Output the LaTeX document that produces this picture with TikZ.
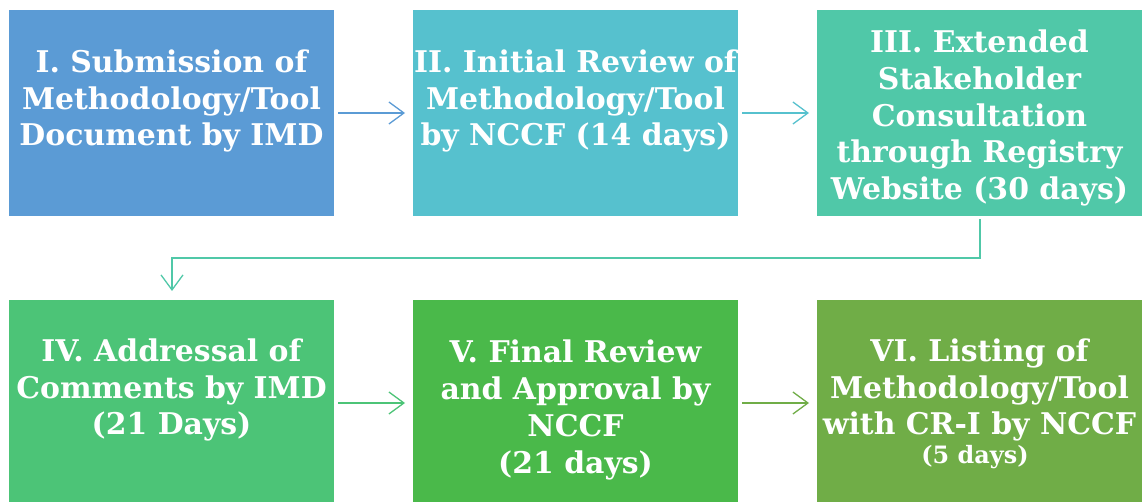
\documentclass[tikz,border=0pt]{standalone}
\usepackage{fontspec}
\setmainfont{DejaVu Serif}
\usetikzlibrary{arrows.meta}
\definecolor{cA}{HTML}{5B9BD5}
\definecolor{cB}{HTML}{56C1CE}
\definecolor{cC}{HTML}{50C8A8}
\definecolor{cD}{HTML}{4CC477}
\definecolor{cE}{HTML}{4AB94A}
\definecolor{cF}{HTML}{70AD47}
\tikzset{
  box/.style={rectangle, draw=none, minimum width=325bp, inner sep=0pt, anchor=north west},
  lbl/.style={text=white, align=center, font=\fontsize{30}{37}\selectfont\bfseries, inner sep=0pt},
  conn/.style={line width=1.3bp, -{Straight Barb[length=15bp,width=22bp,line width=1.3bp]}}
}
\begin{document}
\begin{tikzpicture}[x=1bp,y=-1bp]
\useasboundingbox (0,0) rectangle (1142,502);
\fill[white] (0,0) rectangle (1142,502);
\node[box, fill=cA, minimum height=206bp] (b1) at (9,10) {};
\node[box, fill=cB, minimum height=206bp] (b2) at (413,10) {};
\node[box, fill=cC, minimum height=206bp] (b3) at (817,10) {};
\node[box, fill=cD, minimum height=202bp] (b4) at (9,300) {};
\node[box, fill=cE, minimum height=202bp] (b5) at (413,300) {};
\node[box, fill=cF, minimum height=202bp] (b6) at (817,300) {};
\node[lbl] (t1) at (171.5,101) {I. Submission of\\Methodology/Tool\\Document by IMD};
\node[lbl] (t2) at (575.5,101) {II. Initial Review of\\Methodology/Tool\\by NCCF (14 days)};
\node[lbl] (t3) at (979.5,118) {III. Extended\\Stakeholder\\Consultation\\through Registry\\Website (30 days)};
\node[lbl] (t4) at (171.5,390) {IV. Addressal of\\Comments by IMD\\(21 Days)};
\node[lbl] (t5) at (575.5,410) {V. Final Review\\and Approval by\\NCCF\\(21 days)};
\node[lbl] (t6) at (979.5,390) {VI. Listing of\\Methodology/Tool\\with CR-I by NCCF};
\node[text=white, font=\fontsize{24}{28}\selectfont\bfseries, inner sep=0pt] (t6b) at (975,457) {(5 days)};
\coordinate (e1) at (980,258);
\coordinate (e2) at (172,258);
\draw[conn, cA] (b1.east |- 0,113) ++(4,0) coordinate (a1s) -- ([xshift=-8bp]b2.west |- a1s);
\draw[conn, cB] ([xshift=4bp]b2.east |- a1s) -- ([xshift=-8bp]b3.west |- a1s);
\draw[conn, cC] ([yshift=-3bp]b3.south -| e1) -- (e1) -- (e2) -- ([yshift=9bp]b4.north -| e2);
\draw[conn, cD] ([xshift=4bp]b4.east |- 0,403) coordinate (a4s) -- ([xshift=-8bp]b5.west |- a4s);
\draw[conn, cF] ([xshift=4bp]b5.east |- a4s) -- ([xshift=-8bp]b6.west |- a4s);
\end{tikzpicture}
\end{document}
